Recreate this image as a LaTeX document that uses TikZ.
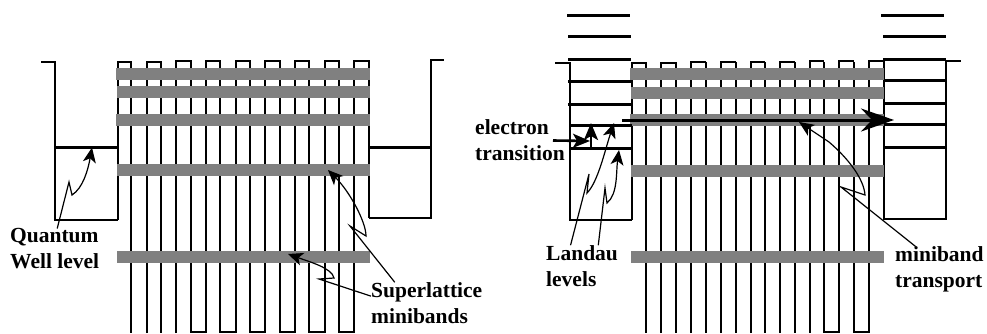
\documentclass[tikz,border=0pt]{standalone}
\usepackage{fontspec}
\setmainfont{Liberation Serif}
\usepackage{xcolor}
\usepackage{tikz}
\usetikzlibrary{
  arrows.meta,
  calc
}
\definecolor{cband}{RGB}{128,128,128}
\tikzset{
  wall/.style={line width=1.8pt, color=black},
  enlevel/.style={line width=3pt, color=black},
  band/.style={fill=cband, draw=none},
  lead/.style={line width=1.2pt, color=black, -{Stealth[length=15pt,width=13pt,inset=4pt]}},
  shortarr/.style={line width=2.6pt, color=black, -{Stealth[length=17pt,width=14pt,inset=4pt]}},
  bigarr/.style={line width=3pt, color=black, -{Stealth[length=33pt,width=23pt,inset=11pt]}},
  tag/.style={
    inner sep=0pt, align=left, anchor=west,
    font=\fontsize{21.5}{26}\selectfont\bfseries
  }
}
\begin{document}
\begin{tikzpicture}[x=1pt, y=-1pt]
  \useasboundingbox (0,0) rectangle (987,333);

  %% ---- Left panel: wells and barriers ----------------------------
  \draw[wall] (41,62) -- (55,62) -- (55,220) -- (118,220);
  \draw[wall] (369,218) -- (431,218) -- (431,60) -- (444,60);
  \draw[enlevel] (55,147) -- (118,147);
  \draw[enlevel] (369,147) -- (431,147);
  \foreach \xa/\xb/\ya/\yb/\yt in {
    118/131/220/333/62, 147/161/333/333/62, 176/191/333/333/61,
    206/220/333/333/61, 236/250/333/333/61, 265/280/333/333/61,
    295/309/333/333/61, 325/339/333/333/61, 354/369/333/218/61}{
    \draw[wall] (\xa,\ya) -- (\xa,\yt) -- (\xb,\yt) -- (\xb,\yb);
  }
  \foreach \xa/\xb in {191/206, 220/236, 250/265, 280/295, 309/325, 339/354}{
    \draw[wall] (\xa,332) -- (\xb,332);
  }
  \foreach \xa/\ya in {116/68, 117/86, 116/114, 117/164, 117/251}{
    \fill[band] (\xa,\ya) rectangle (369.5,\ya+12);
  }

  %% ---- Right panel: wells and barriers ---------------------------
  \draw[wall] (555,63) -- (570,63) -- (570,220) -- (632,220);
  \draw[wall] (884,59) -- (884,219) -- (946,219) -- (946,61) -- (961,61);
  \foreach \xa/\xb/\ya/\yt in {
    632/646/220/63, 661/676/333/63, 691/706/333/62, 721/736/333/62,
    751/765/333/62, 780/795/333/62, 810/824/333/61, 839/854/333/61,
    869/884/333/61}{
    \draw[wall] (\xa,\ya) -- (\xa,\yt) -- (\xb,\yt);
  }
  \foreach \xa in {646,676,706,736,765,795,824,854}{
    \draw[wall] (\xa,62) -- (\xa,333);
  }
  \draw[wall] (824,332) -- (839,332);
  \draw[wall] (854,332) -- (869,332);
  \foreach \xa/\ya in {630/68, 631/87, 630/114, 631/165, 631/251}{
    \fill[band] (\xa,\ya) rectangle (884,\ya+12);
  }
  \foreach \xa/\xb/\ya in {
    567/630/15, 568/631/36, 568/631/59, 568/632/81, 568/632/104,
    570/632/125, 570/632/148,
    881/944/15, 883/946/36, 883/946/59, 884/946/80, 884/946/103,
    884/946/124, 884/946/147}{
    \draw[enlevel] (\xa,\ya) -- (\xb,\ya);
  }

  %% ---- Labels -----------------------------------------------------
  \node[tag] (qwlabel) at (10,249) {Quantum\\Well level};
  \node[tag] (sllabel) at (371,303) {Superlattice\\minibands};
  \node[tag] (etlabel) at (475,140.5) {electron\\transition};
  \node[tag] (lllabel) at (546,266) {Landau\\levels};
  \node[tag] (mblabel) at (895,269.5) {miniband\\transport};

  %% ---- Arrow ends -------------------------------------------------
  \coordinate (qwtip) at (92,147.5);
  \coordinate (sltipa) at (328,170);
  \coordinate (sltipb) at (288,254);
  \coordinate (lltipa) at (614,123);
  \coordinate (lltipb) at (619,150);
  \coordinate (mbtip) at (799,122);
  \coordinate (bigstart) at (622,120);
  \coordinate (bigtip) at (894,120);
  \coordinate (vstart) at (591,148);
  \coordinate (vtip) at (591,123);

  %% ---- Leaders ----------------------------------------------------
  \draw[lead] (qwlabel.83) -- (69,182) -- (72,195) .. controls (83,188) and (88,170) .. (qwtip);
  \draw[lead] (sllabel.147) -- (350,226) -- (366,236) .. controls (366,222) and (350,192) .. (sltipa);
  \draw[lead] (sllabel.173) -- (319,279) -- (334,278) .. controls (332,268) and (310,262) .. (sltipb);
  \draw[lead] (lllabel.119) -- (589,174) -- (587,193) .. controls (598,182) and (605,150) .. (lltipa);
  \draw[lead] (lllabel.52) -- (605,188) -- (607,203) .. controls (618,194) and (616,172) .. (lltipb);
  \draw[lead] (mblabel.136) -- (841,187) -- (865,195) .. controls (864,180) and (850,160) .. (829,142) -- (mbtip);

  %% ---- Transition and transport arrows ----------------------------
  \draw[shortarr] ([xshift=-12pt]etlabel.east) -- (590,141);
  \draw[shortarr] (vstart) -- (vtip);
  \draw[bigarr] (bigstart) -- (bigtip);
\end{tikzpicture}
\end{document}
